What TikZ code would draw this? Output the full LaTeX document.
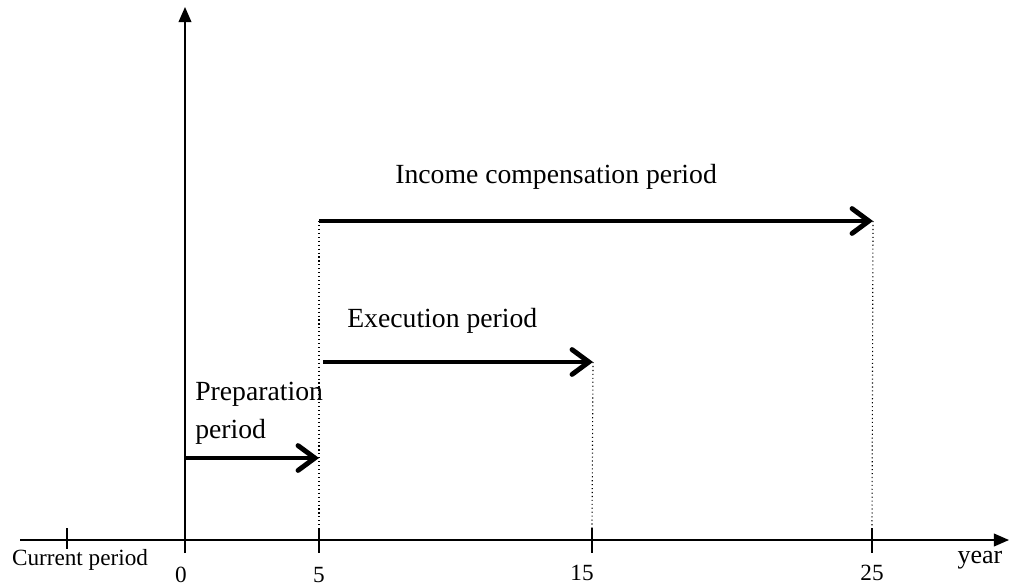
\documentclass[tikz,border=0pt]{standalone}
\usepackage{fontspec}
\setmainfont{Liberation Serif}
\usetikzlibrary{arrows.meta, positioning}

\begin{document}
\begin{tikzpicture}[
  x=0.025cm, y=-0.025cm,
  axis/.style={line width=1.2pt, -{Triangle[length=0.38cm, width=0.32cm]}},
  tickmark/.style={line width=0.9pt},
  span/.style={line width=3.5pt, -{Straight Barb[length=0.42cm, width=0.62cm, line cap=round]}},
  guide/.style={dotted, line width=0.8pt},
  every node/.style={inner sep=0pt, anchor=base},
  lbl/.style={font=\fontsize{19.7}{27}\selectfont},
  ticklbl/.style={font=\fontsize{16.5}{20}\selectfont}
]
\useasboundingbox (0,0) rectangle (1010,587);
% axes
\coordinate (xstart) at (20,540);
\coordinate (xend) at (1009,540);
\coordinate (ybot) at (185,553);
\coordinate (ytop) at (185,7);
\draw[axis] (xstart) -- (xend);
\draw[axis] (ybot) -- (ytop);

% ticks
\coordinate (cur-a) at (67,528);  \coordinate (cur-b) at (67,549);
\coordinate (t5-a) at (319,528);  \coordinate (t5-b) at (319,553);
\coordinate (t15-a) at (592,528); \coordinate (t15-b) at (592,553);
\coordinate (t25-a) at (872,528); \coordinate (t25-b) at (872,553);
\draw[tickmark] (cur-a) -- (cur-b);
\draw[tickmark] (t5-a) -- (t5-b);
\draw[tickmark] (t15-a) -- (t15-b);
\draw[tickmark] (t25-a) -- (t25-b);

% tick labels
\node[ticklbl] (lcur) at (80,565) {Current period};
\node[ticklbl] (l0) at (181,582) {0};
\node[ticklbl] (l5) at (319,582) {5};
\node[ticklbl] (l15) at (582,580) {15};
\node[ticklbl] (l25) at (872,580) {25};
\node[font=\fontsize{18.5}{22}\selectfont] (lyear) at (980,563) {year};

% periods
\coordinate (prep-s) at (185,458);
\coordinate (prep-e) at (319,458);
\coordinate (exec-s) at (323,362);
\coordinate (exec-e) at (593,362);
\coordinate (inc-s) at (319,221);
\coordinate (inc-e) at (873,221);
\draw[span] (prep-s) -- (prep-e);
\draw[span] (exec-s) -- (exec-e);
\draw[span] (inc-s) -- (inc-e);

% guide lines
\draw[guide] (inc-s) -- (t5-a);
\draw[guide] (exec-e) -- (t15-a);
\draw[guide] (inc-e) -- (t25-a);

\node[lbl, anchor=base west] (prep) at (195,400) {Preparation};
\node[lbl, anchor=base west] (prep2) at (195,438) {period};
\node[lbl, anchor=base west] (exec) at (347,327) {Execution period};
\node[lbl, anchor=base west] (inc) at (395,183) {Income compensation period};
\end{tikzpicture}
\end{document}
